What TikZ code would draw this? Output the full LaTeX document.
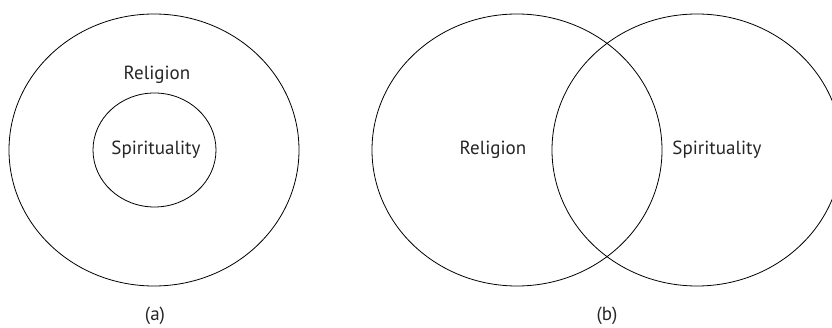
\documentclass[tikz,border=0pt]{standalone}
\usepackage{fontspec}
\setmainfont{PT Sans}
\usetikzlibrary{shapes.geometric}
\tikzset{
  ring/.style={draw, ellipse, line width=0.8pt, inner sep=0pt},
  lbl/.style={font=\fontsize{19}{21}\selectfont, text=black!85, inner sep=0pt}
}
\begin{document}
\begin{tikzpicture}[x=1pt,y=-1pt]
\useasboundingbox (0,0) rectangle (832,328);
\clip (0,0) rectangle (832,328);
% (a)
\node[ring, minimum width=290, minimum height=272] (outer) at (154,150) {};
\node[ring, minimum width=123, minimum height=114] (inner) at (154.5,150) {};
\node[lbl] (relA) at (157,75) {Religion};
\node[lbl] (spiA) at (156,150) {Spirituality};
\node[lbl] (capA) at (155,316) {(a)};
% (b)
\node[ring, minimum width=290, minimum height=272] (relB) at (517,150) {};
\node[ring, minimum width=290, minimum height=272] (spiB) at (697,150) {};
\node[lbl] (relBt) at (493,150) {Religion};
\node[lbl] (spiBt) at (717,150) {Spirituality};
\node[lbl] (capB) at (607,316) {(b)};
\end{tikzpicture}
\end{document}
